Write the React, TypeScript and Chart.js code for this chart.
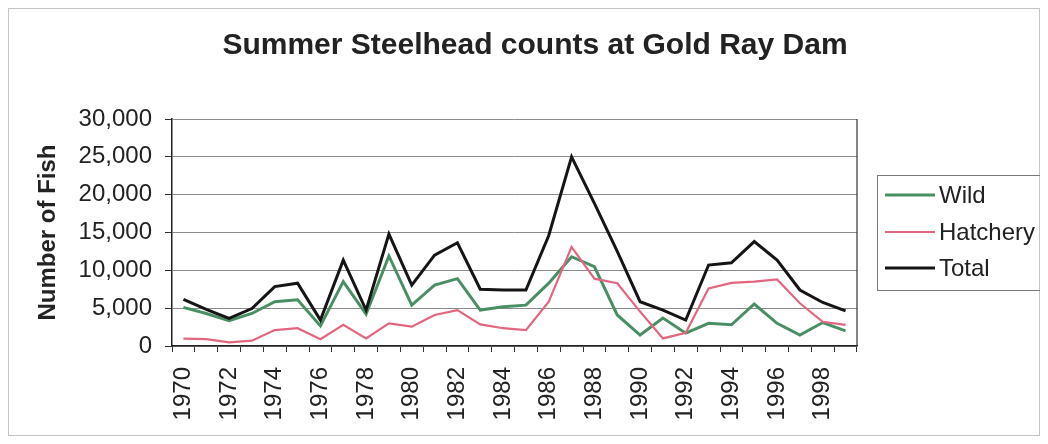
import React, { useEffect, useRef } from "react";
import { Chart, registerables } from "chart.js";

Chart.register(...registerables);

const years = [
  "1970", "1971", "1972", "1973", "1974", "1975", "1976", "1977", "1978", "1979",
  "1980", "1981", "1982", "1983", "1984", "1985", "1986", "1987", "1988", "1989",
  "1990", "1991", "1992", "1993", "1994", "1995", "1996", "1997", "1998", "1999",
];

const wild = [
  5100, 4300, 3350, 4300, 5850, 6100, 2650, 8500, 4200, 11900,
  5400, 8050, 8900, 4750, 5200, 5400, 8300, 11800, 10500, 4100,
  1450, 3700, 1700, 3000, 2800, 5550, 3000, 1450, 3100, 2000,
];

const hatchery = [
  970, 920, 480, 700, 2100, 2350, 900, 2800, 1000, 3000,
  2550, 4100, 4750, 2850, 2350, 2100, 5850, 13100, 8900, 8300,
  4550, 1000, 1750, 7600, 8350, 8500, 8800, 5650, 3200, 2800,
];

const total = [
  6150, 4850, 3650, 4950, 7850, 8300, 3430, 11350, 4750, 14800,
  8050, 12000, 13650, 7500, 7400, 7400, 14600, 25000, 18850, 12500,
  5850, 4750, 3430, 10700, 11000, 13800, 11350, 7400, 5750, 4650,
];

const yTicks = [0, 5000, 10000, 15000, 20000, 25000, 30000];

const TITLE = "Summer Steelhead counts at Gold Ray Dam";
const Y_TITLE = "Number of Fish";
const FONT = "'Liberation Sans', Arial, sans-serif";

// Title, rotated axis title, plot frame and boxed legend drawn on the canvas
const decorPlugin = {
  id: "decor",
  afterDraw(chart: any) {
    const { ctx, chartArea, width, height } = chart;
    ctx.save();

    // outer frame
    ctx.strokeStyle = "#c4c4c4";
    ctx.lineWidth = 1;
    ctx.strokeRect(0.5, 0.5, width - 1, height - 1);

    // right edge of plot
    ctx.strokeStyle = "#333";
    ctx.lineWidth = 1.2;
    ctx.beginPath();
    ctx.moveTo(chartArea.right, chartArea.top);
    ctx.lineTo(chartArea.right, chartArea.bottom);
    ctx.stroke();

    // title
    ctx.fillStyle = "#222";
    ctx.font = `bold 30px ${FONT}`;
    ctx.textAlign = "center";
    ctx.textBaseline = "alphabetic";
    ctx.fillText(TITLE, 527, 46);

    // y axis title
    ctx.save();
    ctx.translate(40, (chartArea.top + chartArea.bottom) / 2);
    ctx.rotate(-Math.PI / 2);
    ctx.font = `bold 24px ${FONT}`;
    ctx.textAlign = "center";
    ctx.textBaseline = "middle";
    ctx.fillText(Y_TITLE, 0, 0);
    ctx.restore();

    // legend
    const lx = chartArea.right + 20;
    const ly = chartArea.top + 56;
    ctx.strokeStyle = "#777";
    ctx.lineWidth = 1;
    ctx.strokeRect(lx + 0.5, ly + 0.5, width - lx + 10, 115);
    ctx.font = `24px ${FONT}`;
    ctx.textAlign = "left";
    ctx.textBaseline = "middle";
    const rows = [20, 57, 93];
    chart.data.datasets.forEach((ds: any, i: number) => {
      const y = ly + rows[i];
      ctx.strokeStyle = ds.borderColor;
      ctx.lineWidth = ds.borderWidth;
      ctx.beginPath();
      ctx.moveTo(lx + 8, y);
      ctx.lineTo(lx + 58, y);
      ctx.stroke();
      ctx.fillStyle = "#222";
      ctx.fillText(ds.label, lx + 62, y + 1);
    });

    ctx.restore();
  },
};

export default function App() {
  const canvasRef = useRef<HTMLCanvasElement | null>(null);

  useEffect(() => {
    if (!canvasRef.current) return;
    const chart = new Chart(canvasRef.current, {
      type: "line",
      data: {
        labels: years,
        datasets: [
          {
            label: "Wild",
            data: wild,
            borderColor: "#4a8f63",
            borderWidth: 3,
            pointRadius: 0,
            tension: 0,
            order: 2,
          },
          {
            label: "Hatchery",
            data: hatchery,
            borderColor: "#e3667f",
            borderWidth: 2.2,
            pointRadius: 0,
            tension: 0,
            order: 1,
          },
          {
            label: "Total",
            data: total,
            borderColor: "#151515",
            borderWidth: 3,
            pointRadius: 0,
            tension: 0,
            order: 0,
          },
        ],
      },
      options: {
        animation: false,
        responsive: true,
        maintainAspectRatio: false,
        layout: { padding: { left: 0, top: 111, right: 183, bottom: 0 } },
        plugins: {
          legend: { display: false },
          title: { display: false },
          tooltip: { enabled: false },
        },
        scales: {
          x: {
            type: "category",
            offset: true,
            grid: {
              display: true,
              drawOnChartArea: false,
              offset: true,
              tickLength: 6,
              tickColor: "#333",
            },
            border: { color: "#222", width: 1.5 },
            ticks: {
              autoSkip: false,
              minRotation: 90,
              maxRotation: 90,
              padding: 15,
              color: "#222",
              font: { family: FONT, size: 24 },
              callback: (_v: any, i: number) => (i % 2 === 0 ? years[i] : ""),
            },
            afterFit: (scale: any) => {
              scale.height = 90;
            },
          },
          y: {
            min: yTicks[0],
            max: yTicks[yTicks.length - 1],
            afterBuildTicks: (scale: any) => {
              scale.ticks = yTicks.map((v) => ({ value: v }));
            },
            grid: {
              color: "#8c8c8c",
              lineWidth: 1,
              tickLength: 7,
              tickColor: "#333",
            },
            border: { color: "#222", width: 1.5 },
            ticks: {
              padding: 13,
              color: "#222",
              font: { family: FONT, size: 24 },
              callback: (v: any) => Number(v).toLocaleString("en-US"),
            },
            afterFit: (scale: any) => {
              scale.width = 164;
            },
          },
        },
      },
      plugins: [decorPlugin],
    });
    return () => chart.destroy();
  }, []);

  return (
    <div style={{ position: "relative", width: 1032, height: 428 }}>
      <canvas ref={canvasRef} />
    </div>
  );
}
